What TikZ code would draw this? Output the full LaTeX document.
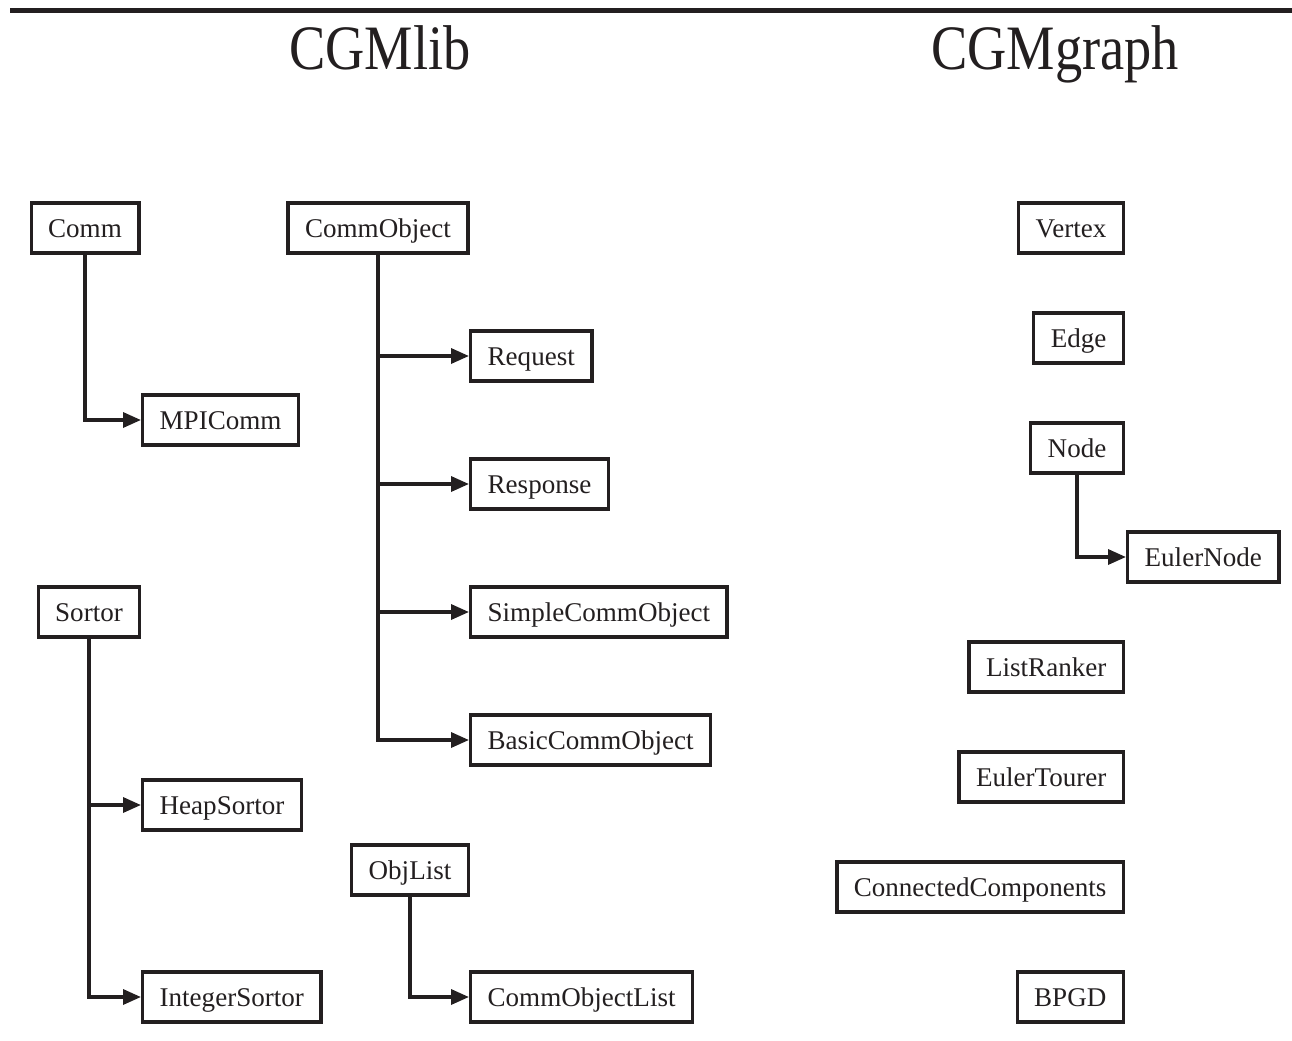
\documentclass[tikz,border=0pt]{standalone}
\usepackage{fontspec}
\setmainfont{Liberation Serif}
\usepackage{graphicx}
\usetikzlibrary{arrows.meta}

\definecolor{ink}{HTML}{231F20}

\begin{document}
\begin{tikzpicture}[x=0.02cm, y=-0.02cm,
    cls/.style={draw=ink, line width=1.9pt, minimum height=1cm, inner xsep=0.34cm,
      text height=0.36cm, text depth=0pt, font=\fontsize{15.4}{18}\selectfont, text=ink},
    inh/.style={draw=ink, line width=1.9pt, -{Triangle[length=0.36cm,width=0.3cm]}},
    title/.style={anchor=base, font=\fontsize{36}{40}\selectfont, text=ink}]
  \useasboundingbox (0,0) rectangle (1292,1041);
  % rule and headings
  \draw[ink, line width=2.4pt] (10,10.5) -- (1292,10.5);
  \node[title] (libtitle) at (380,69) {\scalebox{0.86}[1]{CGMlib}};
  \node[title] (graphtitle) at (1055,69) {\scalebox{0.86}[1]{CGMgraph}};
  % CGMlib
  \node[cls] (Comm) at (85,228) {Comm};
  \node[cls, anchor=west] (MPIComm) at (141,420) {MPIComm};
  \node[cls] (CommObject) at (378,228) {CommObject};
  \node[cls, anchor=west] (Request) at (469,356) {Request};
  \node[cls, anchor=west] (Response) at (469,484) {Response};
  \node[cls, anchor=west] (SimpleCommObject) at (469,612) {SimpleCommObject};
  \node[cls, anchor=west] (BasicCommObject) at (469,740) {BasicCommObject};
  \node[cls] (Sortor) at (89,612) {Sortor};
  \node[cls, anchor=west] (HeapSortor) at (141,805) {HeapSortor};
  \node[cls, anchor=west] (IntegerSortor) at (141,997) {IntegerSortor};
  \node[cls] (ObjList) at (410,870) {ObjList};
  \node[cls, anchor=west] (CommObjectList) at (469,997) {CommObjectList};
  \draw[inh] (Comm.south) |- (MPIComm.west);
  \foreach \sub in {Request, Response, SimpleCommObject, BasicCommObject}
    \draw[inh] (CommObject.south) |- (\sub.west);
  \draw[inh] (Sortor.south) |- (HeapSortor.west);
  \draw[inh] (Sortor.south) |- (IntegerSortor.west);
  \draw[inh] (ObjList.south) |- (CommObjectList.west);
  % CGMgraph
  \node[cls, anchor=east] (Vertex) at (1125,228) {Vertex};
  \node[cls, anchor=east] (Edge) at (1125,338) {Edge};
  \node[cls, anchor=east] (Node) at (1125,448) {Node};
  \node[cls, anchor=west] (EulerNode) at (1126,557) {EulerNode};
  \node[cls, anchor=east] (ListRanker) at (1125,667) {ListRanker};
  \node[cls, anchor=east] (EulerTourer) at (1125,777) {EulerTourer};
  \node[cls, anchor=east] (ConnectedComponents) at (1125,887) {ConnectedComponents};
  \node[cls, anchor=east] (BPGD) at (1125,997) {BPGD};
  \draw[inh] (Node.south) |- (EulerNode.west);
\end{tikzpicture}
\end{document}
